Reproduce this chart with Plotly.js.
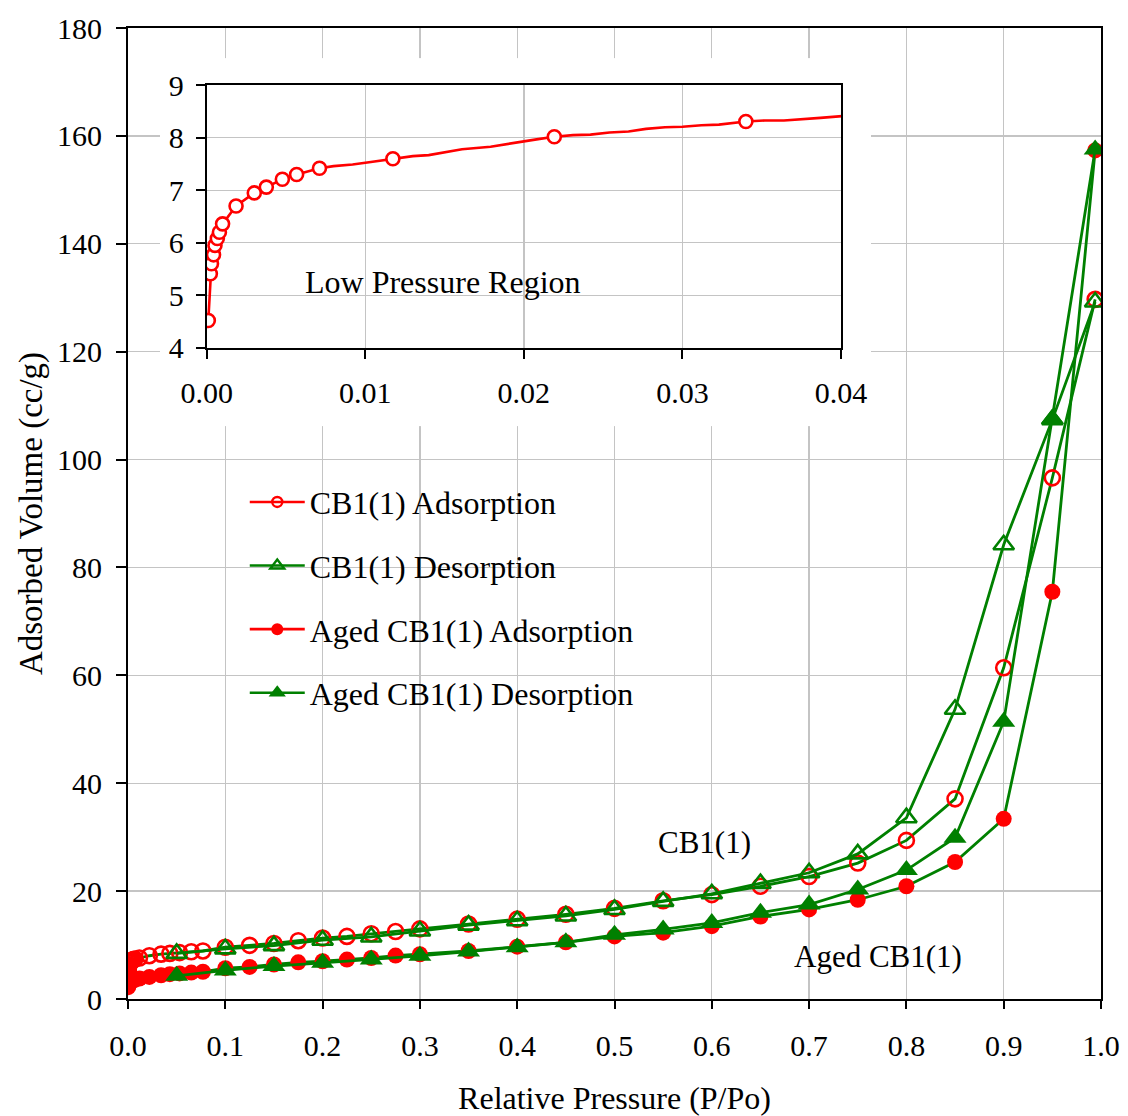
<!DOCTYPE html>
<html>
<head>
<meta charset="utf-8">
<script src="https://cdn.plot.ly/plotly-3.0.1.min.js"></script>
<style>html,body{margin:0;padding:0;background:#fff;}#chart{width:1128px;height:1116px;}</style>
</head>
<body>
<div id="chart"></div>
<script>
// ---- Data ----
// CB1(1) adsorption (open red circles)
var cb1AdsX = [0.0001, 0.00023, 0.0003, 0.00043, 0.00052, 0.00067, 0.0008, 0.001, 0.00185, 0.003, 0.00376, 0.00477, 0.00567, 0.00711, 0.01174, 0.02192, 0.034,
  0.043, 0.053, 0.065, 0.077, 0.1, 0.125, 0.15, 0.175, 0.2, 0.225, 0.25, 0.275, 0.3, 0.35, 0.4, 0.45, 0.5, 0.55, 0.6, 0.65, 0.7, 0.75, 0.8, 0.85, 0.9, 0.95, 0.994];
var cb1AdsY = [4.52, 5.41, 5.60, 5.77, 5.95, 6.08, 6.20, 6.36, 6.70, 6.95, 7.06, 7.21, 7.30, 7.42, 7.60, 8.02, 8.31,
  8.45, 8.6, 8.75, 8.9, 9.6, 9.95, 10.3, 10.8, 11.3, 11.6, 12.1, 12.5, 13.0, 13.9, 14.8, 15.7, 16.8, 18.2, 19.35, 20.9, 22.7, 25.2, 29.4, 37.1, 61.4, 96.6, 129.7];

// CB1(1) desorption (open green triangles)
var cb1DesX = [0.994, 0.95, 0.9, 0.85, 0.8, 0.75, 0.7, 0.65, 0.6, 0.55, 0.5, 0.45, 0.4, 0.35, 0.3, 0.25, 0.2, 0.15, 0.1, 0.05];
var cb1DesY = [129.2, 107.4, 84.2, 53.7, 33.6, 26.9, 23.4, 21.4, 19.5, 18.1, 16.6, 15.4, 14.5, 13.7, 12.6, 11.5, 10.9, 9.9, 9.3, 8.45];

// Aged CB1(1) adsorption (filled red circles)
var agedAdsX = [0.0002, 0.0004, 0.0006, 0.001, 0.0019, 0.003, 0.0048, 0.0071, 0.0118, 0.022, 0.034, 0.043, 0.053, 0.065, 0.077,
  0.1, 0.125, 0.15, 0.175, 0.2, 0.225, 0.25, 0.275, 0.3, 0.35, 0.4, 0.45, 0.5, 0.55, 0.6, 0.65, 0.7, 0.75, 0.8, 0.85, 0.9, 0.95, 0.994];
var agedAdsY = [2.2, 2.5, 2.7, 2.9, 3.1, 3.25, 3.4, 3.55, 3.8, 4.1, 4.4, 4.6, 4.75, 4.9, 5.05,
  5.7, 5.95, 6.4, 6.8, 7.0, 7.3, 7.6, 8.05, 8.3, 8.9, 9.7, 10.5, 11.6, 12.3, 13.5, 15.3, 16.6, 18.4, 20.9, 25.4, 33.4, 75.5, 157.3];

// Aged CB1(1) desorption (filled green triangles)
var agedDesX = [0.994, 0.95, 0.9, 0.85, 0.8, 0.75, 0.7, 0.65, 0.6, 0.55, 0.5, 0.45, 0.4, 0.35, 0.3, 0.25, 0.2, 0.15, 0.1, 0.05];
var agedDesY = [157.5, 107.6, 51.4, 29.9, 23.9, 20.3, 17.5, 16.0, 14.1, 12.9, 11.9, 10.5, 9.6, 8.8, 8.0, 7.3, 6.7, 6.1, 5.3, 4.3];

// Inset: continuous low-pressure adsorption curve of CB1(1)
var insetLineX = [0.0001, 0.00023, 0.0003, 0.00043, 0.00052, 0.00067, 0.0008, 0.001, 0.00185, 0.003, 0.00376, 0.00477, 0.00567, 0.00711, 0.008, 0.0092, 0.01035, 0.01174,
  0.013, 0.014, 0.015, 0.0161, 0.0179, 0.0196, 0.0208, 0.02192, 0.0231, 0.0242, 0.0254, 0.0266, 0.0277, 0.0289, 0.0300, 0.0312, 0.0323, 0.034, 0.0352, 0.0364, 0.0375, 0.0387, 0.0404];
var insetLineY = [4.52, 5.41, 5.60, 5.77, 5.95, 6.08, 6.20, 6.36, 6.70, 6.95, 7.06, 7.21, 7.30, 7.42, 7.46, 7.49, 7.54, 7.60,
  7.65, 7.67, 7.72, 7.78, 7.83, 7.92, 7.97, 8.02, 8.05, 8.06, 8.10, 8.12, 8.17, 8.20, 8.21, 8.24, 8.25, 8.31, 8.33, 8.33, 8.36, 8.38, 8.42];

var seriesNames = ['CB1(1) Adsorption', 'CB1(1) Desorption', 'Aged CB1(1) Adsorption', 'Aged CB1(1) Desorption'];
var mainTickLabelsX = ['0.0','0.1','0.2','0.3','0.4','0.5','0.6','0.7','0.8','0.9','1.0'];
var mainTickValsX = [0,0.1,0.2,0.3,0.4,0.5,0.6,0.7,0.8,0.9,1.0];
var insetTickLabelsX = ['0.00','0.01','0.02','0.03','0.04'];
var insetTickValsX = [0,0.01,0.02,0.03,0.04];

// ---- Styling ----
var RED = '#ff0000';
var GREEN = '#008000';
var FONT = 'Liberation Serif, Times New Roman, serif';
var LW = 2.8;

var traces = [];
// main plot traces (all connecting lines green, as in the reference)
traces.push({x: cb1AdsX, y: cb1AdsY, mode: 'lines+markers', showlegend: false, hoverinfo: 'skip',
  line: {color: GREEN, width: LW},
  marker: {symbol: 'circle-open', size: 15, color: RED, line: {color: RED, width: 2.6}}});
traces.push({x: agedAdsX, y: agedAdsY, mode: 'lines+markers', showlegend: false, hoverinfo: 'skip',
  line: {color: GREEN, width: LW},
  marker: {symbol: 'circle', size: 16, color: RED}});
traces.push({x: cb1DesX, y: cb1DesY, mode: 'lines+markers', showlegend: false, hoverinfo: 'skip',
  line: {color: GREEN, width: LW},
  marker: {symbol: 'triangle-up-open', size: 18, color: GREEN, line: {color: GREEN, width: 2.6}}});
traces.push({x: agedDesX, y: agedDesY, mode: 'lines+markers', showlegend: false, hoverinfo: 'skip',
  line: {color: GREEN, width: LW},
  marker: {symbol: 'triangle-up', size: 20, color: GREEN}});

// legend entries
traces.push({x: [null], y: [null], mode: 'lines+markers', name: seriesNames[0], legendgroup: 'a',
  line: {color: RED, width: 2.6}, marker: {symbol: 'circle-open', size: 10, color: RED, line: {color: RED, width: 2.4}}});
traces.push({x: [null], y: [null], mode: 'lines+markers', name: seriesNames[1], legendgroup: 'b',
  line: {color: GREEN, width: 2.6}, marker: {symbol: 'triangle-up-open', size: 12, color: GREEN, line: {color: GREEN, width: 2.4}}});
traces.push({x: [null], y: [null], mode: 'lines+markers', name: seriesNames[2], legendgroup: 'c',
  line: {color: RED, width: 2.6}, marker: {symbol: 'circle', size: 12, color: RED}});
traces.push({x: [null], y: [null], mode: 'lines+markers', name: seriesNames[3], legendgroup: 'd',
  line: {color: GREEN, width: 2.6}, marker: {symbol: 'triangle-up', size: 15, color: GREEN}});

// white cover subplot behind the inset
traces.push({x: [], y: [], xaxis: 'x2', yaxis: 'y2', mode: 'markers', showlegend: false, hoverinfo: 'skip'});

// inset traces
traces.push({x: insetLineX, y: insetLineY, xaxis: 'x3', yaxis: 'y3', mode: 'lines', showlegend: false, hoverinfo: 'skip',
  line: {color: RED, width: 2.6}});
traces.push({x: cb1AdsX, y: cb1AdsY, xaxis: 'x3', yaxis: 'y3', mode: 'markers', showlegend: false, hoverinfo: 'skip',
  marker: {symbol: 'circle', size: 13, color: '#ffffff', line: {color: RED, width: 2.6}}});

var axisCommon = {
  showline: true, linecolor: '#000', linewidth: 2, mirror: true,
  ticks: 'outside', tickcolor: '#000', tickwidth: 2,
  showgrid: true, gridcolor: '#c4c4c4', gridwidth: 1.3, zeroline: false,
  tickfont: {family: FONT, size: 30, color: '#000'}
};

function ax(extra) { return Object.assign({}, axisCommon, extra); }

var layout = {
  width: 1128, height: 1116,
  margin: {l: 128, r: 27, t: 28, b: 117, pad: 0},
  paper_bgcolor: '#ffffff', plot_bgcolor: '#ffffff',
  font: {family: FONT, color: '#000', size: 31},
  showlegend: true,
  hovermode: false,
  legend: {x: 0.12, y: 0.54, xanchor: 'left', yanchor: 'top', bgcolor: 'rgba(0,0,0,0)', borderwidth: 0,
    font: {family: FONT, size: 32, color: '#000'}, tracegroupgap: 19, itemwidth: 55},
  xaxis: ax({domain: [0, 1], anchor: 'y', range: [0, 1], tickvals: mainTickValsX, ticktext: mainTickLabelsX,
    ticklen: 8, ticklabelstandoff: 11,
    title: {text: 'Relative Pressure (P/Po)', font: {family: FONT, size: 32, color: '#000'}, standoff: 34}}),
  yaxis: ax({domain: [0, 1], anchor: 'x', range: [0, 180], dtick: 20, tick0: 0,
    ticklen: 10, ticklabelstandoff: 8,
    title: {text: 'Adsorbed Volume (cc/g)', font: {family: FONT, size: 33, color: '#000'}, standoff: 4}}),
  xaxis2: {domain: [0.0329, 0.7636], anchor: 'y2', range: [0, 1], visible: false, showgrid: false, zeroline: false},
  yaxis2: {domain: [0.590, 0.969], anchor: 'x2', range: [0, 1], visible: false, showgrid: false, zeroline: false},
  xaxis3: ax({domain: [0.0809, 0.7328], anchor: 'y3', range: [0, 0.04], tickvals: insetTickValsX, ticktext: insetTickLabelsX,
    ticklen: 9, ticklabelstandoff: 8}),
  yaxis3: ax({domain: [0.6707, 0.941], anchor: 'x3', range: [4, 9], dtick: 1, tick0: 4,
    ticklen: 9, ticklabelstandoff: 6}),
  annotations: [
    {xref: 'x3', yref: 'y3', x: 0.0149, y: 5.25, text: 'Low Pressure Region', showarrow: false,
      font: {family: FONT, size: 32, color: '#000'}},
    {xref: 'x', yref: 'y', x: 0.593, y: 29.0, text: 'CB1(1)', showarrow: false,
      font: {family: FONT, size: 31, color: '#000'}},
    {xref: 'x', yref: 'y', x: 0.771, y: 7.9, text: 'Aged CB1(1)', showarrow: false,
      font: {family: FONT, size: 31, color: '#000'}}
  ]
};

Plotly.newPlot('chart', traces, layout, {displayModeBar: false, staticPlot: true});
</script>
</body>
</html>
